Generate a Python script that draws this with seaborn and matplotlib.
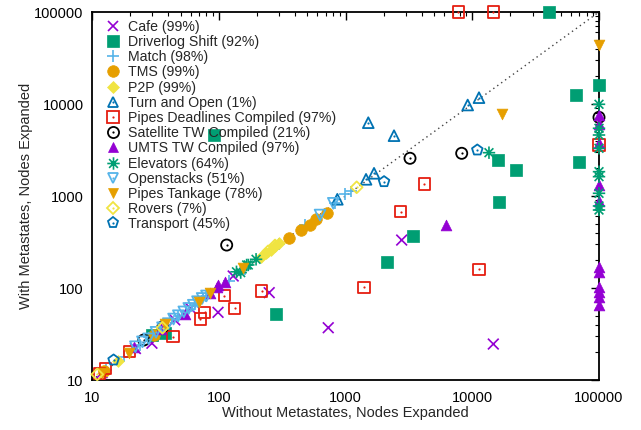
import matplotlib
matplotlib.use("Agg")
import matplotlib.pyplot as plt
import seaborn as sns
import pandas as pd
from matplotlib.path import Path
from matplotlib.lines import Line2D
from matplotlib.legend_handler import HandlerTuple
from matplotlib.ticker import LogLocator, FixedLocator, NullFormatter

# ---------------- data ----------------
labels = ["Cafe (99%)", "Driverlog Shift (92%)", "Match (98%)", "TMS (99%)", "P2P (99%)",
          "Turn and Open (1%)", "Pipes Deadlines Compiled (97%)", "Satellite TW Compiled (21%)",
          "UMTS TW Compiled (97%)", "Elevators (64%)", "Openstacks (51%)",
          "Pipes Tankage (78%)", "Rovers (7%)", "Transport (45%)"]

cafe_x = [12, 22, 29.7, 45, 60, 98.7, 130, 250, 731, 2775, 14660]
cafe_y = [12, 22, 25.1, 45, 60, 54.4, 135, 89, 37, 332, 24.6]

driverlog_x = [29.7, 37.4, 283, 91.7, 2113, 3428, 16060, 22140, 16340, 65500, 69900, 40550, 100000]
driverlog_y = [30.8, 32.2, 52, 4602, 190, 370, 2462, 1918, 861, 12620, 2325, 100000, 15960]

match_x = [13, 18, 24, 28, 33, 48, 55, 65, 80, 120, 160, 300, 480, 820, 991, 1100]
match_y = [13, 18, 24, 29, 34, 50, 56, 66, 82, 120, 160, 300, 490, 840, 1052, 1120]

tms_x = [12.5, 31, 360, 445, 525, 585, 711]
tms_y = [12.5, 31, 347, 427, 484, 558, 649]

p2p_x = [16, 215, 235, 258, 280, 300]
p2p_y = [16, 218, 240, 262, 285, 305]

turn_x = [862, 1452, 1679, 1513, 2414, 9204, 11300]
turn_y = [921, 1518, 1765, 6265, 4526, 9752, 11720]

deadlines_x = [11.4, 12.7, 19.8, 43.6, 71.5, 77.6, 111, 134, 218, 1400, 2725, 4188, 11300, 7762, 14660, 100000]
deadlines_y = [11.8, 13.4, 20.3, 29.6, 46, 54.4, 82.6, 60, 92.8, 101.8, 676, 1350, 160, 100000, 100000, 3584]

satellite_x = [25.6, 36.3, 115.5, 3228, 8256, 100000]
satellite_y = [27.2, 38, 293, 2570, 2911, 7165]

umts_x = [21.3, 35, 54, 85, 96, 98.7, 113, 6209,
          100000, 100000, 100000, 100000, 100000, 100000, 100000, 100000, 100000, 100000, 100000]
umts_y = [23, 36, 52, 88, 103, 107, 117, 484,
          168, 149, 103, 91, 80, 65, 7590, 6013, 3740, 1318, 889]

elevators_x = [138, 149, 166, 171, 197, 13550,
               100000, 100000, 100000, 100000, 100000, 100000, 100000, 100000, 100000]
elevators_y = [150, 147, 178, 178, 205, 2957,
               9930, 5445, 4602, 3300, 1838, 1622, 1070, 779, 704]

openstacks_x = [22, 25, 28, 32, 36, 40, 44, 48, 53, 58, 63, 68, 74, 80, 630, 801]
openstacks_y = [23, 26, 28, 33, 37, 41, 46, 50, 55, 60, 65, 71, 77, 82, 621, 833]

tankage_x = [12, 19.7, 37.9, 70, 85.8, 156, 17070, 100000]
tankage_y = [12, 19.8, 40.3, 71, 89, 164, 7787, 43780]

rovers_x = [11, 36, 245, 278, 1225]
rovers_y = [11.5, 37, 250, 290, 1244]

transport_x = [14.8, 2014, 10960]
transport_y = [16.5, 1432, 3162]

# ---------------- style ----------------
sns.set_theme(style="white")
plt.rcParams["font.family"] = ["Liberation Sans", "DejaVu Sans"]
plt.rcParams["font.size"] = 10

PURPLE, GREEN, LBLUE, ORANGE = "#9400D3", "#009E73", "#56B4E9", "#E69F00"
YELLOW, BLUE, RED, BLACK = "#F0E442", "#0072B2", "#E51E10", "#000000"

ast = Path([(-1, 0), (1, 0), (0, -1), (0, 1), (-.7071, -.7071), (.7071, .7071), (-.7071, .7071), (.7071, -.7071)],
           [Path.MOVETO, Path.LINETO] * 4)

# (x, y, marker, color, kind, size)  kind: 'line', 'fill', 'open'
series = [
    (cafe_x, cafe_y, "x", PURPLE, "line", 60),
    (driverlog_x, driverlog_y, "s", GREEN, "fill", 64),
    (match_x, match_y, "+", LBLUE, "line", 70),
    (tms_x, tms_y, "o", ORANGE, "fill", 70),
    (p2p_x, p2p_y, "D", YELLOW, "fill", 36),
    (turn_x, turn_y, "^", BLUE, "open", 60),
    (deadlines_x, deadlines_y, "s", RED, "open", 64),
    (satellite_x, satellite_y, "o", BLACK, "open", 64),
    (umts_x, umts_y, "^", PURPLE, "fill", 60),
    (elevators_x, elevators_y, ast, GREEN, "line", 80),
    (openstacks_x, openstacks_y, "v", LBLUE, "open", 60),
    (tankage_x, tankage_y, "v", ORANGE, "fill", 60),
    (rovers_x, rovers_y, "D", YELLOW, "open", 36),
    (transport_x, transport_y, "p", BLUE, "open", 64),
]

fig = plt.figure(figsize=(6.41, 4.30), dpi=100)
ax = fig.add_axes([92 / 641, 50 / 430, 507 / 641, 368 / 430])

# diagonal reference line
ax.plot([10, 100000], [10, 100000], linestyle=(0, (1, 2.5)), color="#444444", linewidth=1.0, zorder=1)

handles = []
for lab, (xs, ys, mk, col, kind, s) in zip(labels, series):
    df = pd.DataFrame({"x": xs, "y": ys})
    sns.scatterplot(data=df, x="x", y="y", ax=ax, marker=mk, color=col, s=s, zorder=3,
                    legend=False, clip_on=False)
    coll = ax.collections[-1]
    ms = s ** 0.5
    if kind == "fill":
        coll.set_facecolor(col)
        coll.set_edgecolor(col)
        coll.set_linewidth(0.5)
        h = Line2D([], [], linestyle="none", marker=mk, markersize=ms, markerfacecolor=col,
                   markeredgecolor=col, markeredgewidth=0.5)
    elif kind == "line":
        coll.set_facecolor("none")
        coll.set_edgecolor(col)
        coll.set_linewidth(1.2)
        h = Line2D([], [], linestyle="none", marker=mk, markersize=ms, markerfacecolor="none",
                   markeredgecolor=col, markeredgewidth=1.2)
    else:
        coll.set_facecolor("none")
        coll.set_edgecolor(col)
        coll.set_linewidth(1.3)
        sns.scatterplot(data=df, x="x", y="y", ax=ax, marker="o", color=col, s=2.5, zorder=3,
                        legend=False, linewidth=0, clip_on=False)
        h1 = Line2D([], [], linestyle="none", marker=mk, markersize=ms, markerfacecolor="none",
                    markeredgecolor=col, markeredgewidth=1.3)
        h2 = Line2D([], [], linestyle="none", marker="o", markersize=1.6, markerfacecolor=col,
                    markeredgecolor=col, markeredgewidth=0)
        h = (h1, h2)
    handles.append(h)

ax.set_xscale("log")
ax.set_yscale("log")
ax.set_xlim(10, 100000)
ax.set_ylim(10, 100000)

ticks = [10, 100, 1000, 10000, 100000]
ax.xaxis.set_major_locator(FixedLocator(ticks))
ax.yaxis.set_major_locator(FixedLocator(ticks))
ax.set_xticklabels([str(t) for t in ticks])
ax.set_yticklabels([str(t) for t in ticks])
ax.xaxis.set_minor_locator(LogLocator(base=10, subs=range(2, 10)))
ax.yaxis.set_minor_locator(LogLocator(base=10, subs=range(2, 10)))
ax.xaxis.set_minor_formatter(NullFormatter())
ax.yaxis.set_minor_formatter(NullFormatter())
ax.tick_params(which="both", direction="in", top=True, right=True, colors="black", labelsize=10.5)
ax.tick_params(which="major", length=6, width=1.0)
ax.tick_params(axis="x", which="major", pad=8)
ax.tick_params(axis="y", which="major", pad=6)
ax.tick_params(which="minor", length=3, width=0.8)
for sp in ax.spines.values():
    sp.set_color("black")
    sp.set_linewidth(1.3)

ax.set_xlabel("Without Metastates, Nodes Expanded", fontsize=10.5, labelpad=1)
ax.set_ylabel("With Metastates, Nodes Expanded", fontsize=10.5, labelpad=1)

leg = ax.legend(handles, labels, loc="upper left", bbox_to_anchor=(0.024, 0.979), frameon=False,
                fontsize=10.2, borderpad=0, borderaxespad=0, handlelength=1.2, handletextpad=0.48,
                labelspacing=0.085, handler_map={tuple: HandlerTuple(ndivide=1, pad=0)})
leg.set_zorder(5)

fig.savefig("out.png", dpi=100, facecolor="white")
